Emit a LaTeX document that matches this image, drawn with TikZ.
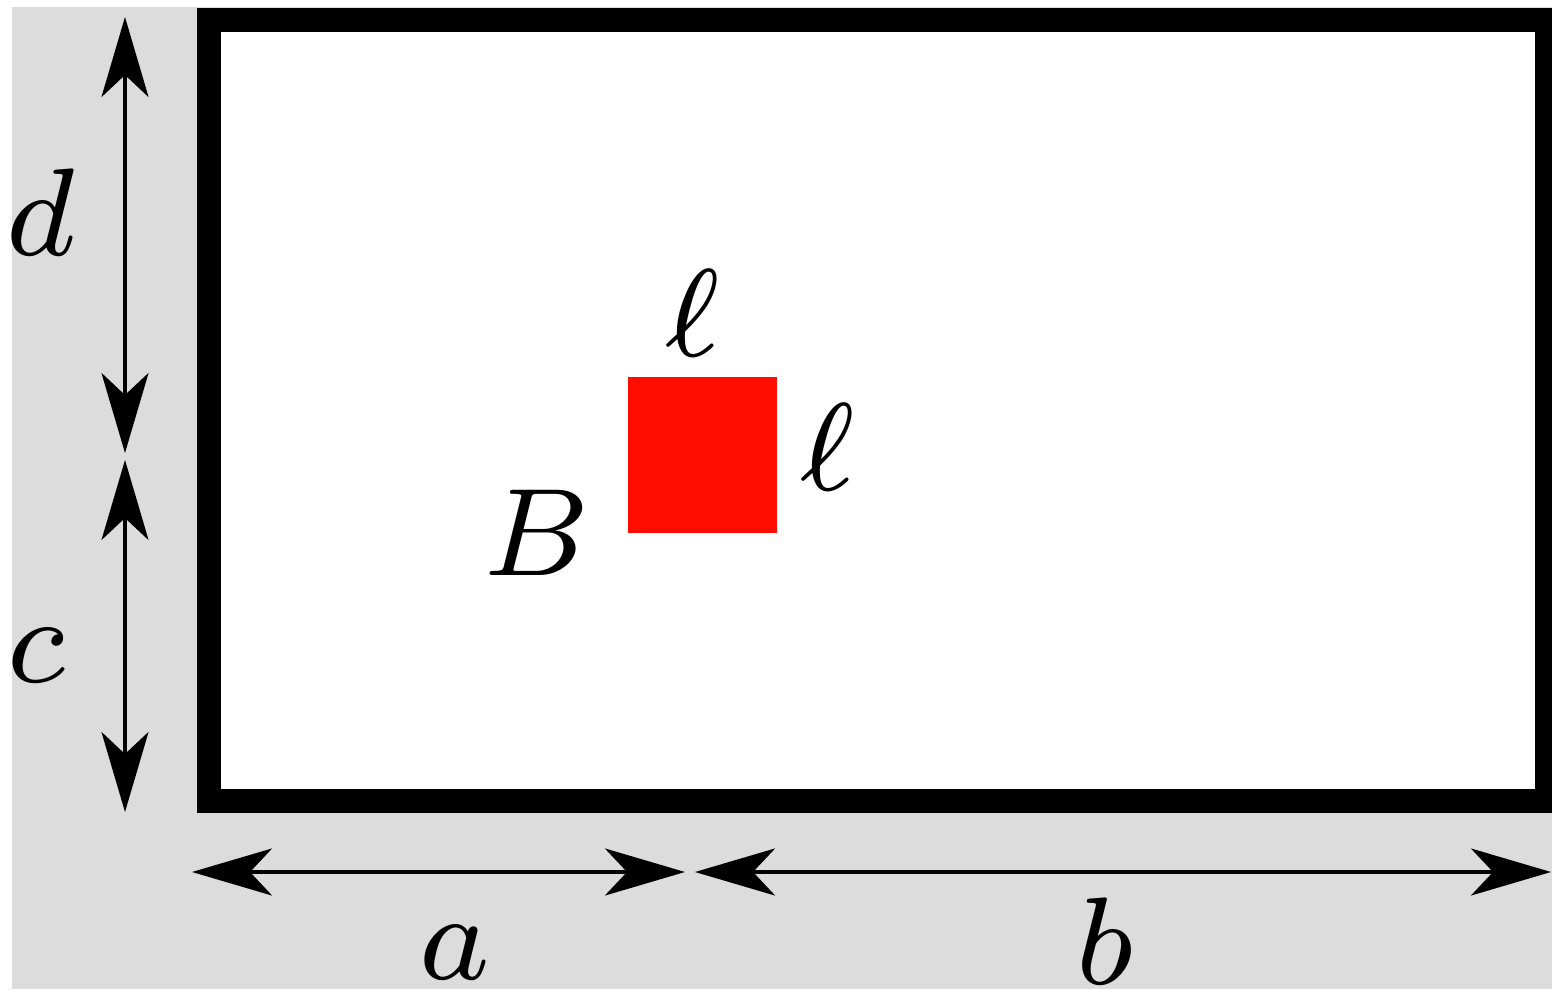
\RequirePackage{fix-cm}
\documentclass[tikz,border=0pt]{standalone}
\usepackage{graphicx}
\usetikzlibrary{arrows.meta}
\definecolor{bggray}{HTML}{DCDCDC}
\definecolor{sqred}{HTML}{FF0D00}
\newcommand{\biglab}[1]{\scalebox{15.6}{\fontsize{8}{9}\selectfont$#1$}}
\tikzset{
  dim/.style={line width=3.5pt, {Stealth[length=80pt,width=47pt,inset=22pt]}-{Stealth[length=80pt,width=47pt,inset=22pt]}},
  lab/.style={anchor=base, inner sep=0pt, outer sep=0pt}
}
\begin{document}
\begin{tikzpicture}[x=1pt,y=-1pt]
\useasboundingbox (0,0) rectangle (1552,992);
\clip (0,0) rectangle (1552,992);
\fill[white] (0,0) rectangle (1552,992);
\fill[bggray] (12,7) rectangle (1552,989);
% frame
\node[draw=black, line width=24pt, fill=white, inner sep=0pt, outer sep=0pt, minimum width=1338.5pt, minimum height=780pt, anchor=north west] (frame) at (208.5,20.5) {};
% red square
\node[fill=sqred, inner sep=0pt, outer sep=0pt, minimum width=149pt, minimum height=156pt, anchor=north west] (sq) at (628,377) {};
% dimension coordinates
\coordinate (dtop) at (125,17);
\coordinate (dbot) at (125,453);
\coordinate (ctop) at (125,460);
\coordinate (cbot) at (125,812);
\coordinate (aleft) at (192,872);
\coordinate (aright) at (685,872);
\coordinate (bleft) at (695,872);
\coordinate (bright) at (1551,872);
\draw[dim] (dtop) -- (dbot);
\draw[dim] (ctop) -- (cbot);
\draw[dim] (aleft) -- (aright);
\draw[dim] (bleft) -- (bright);
% labels
\node[lab] (ld) at (41,256) {\biglab{d}};
\node[lab] (lc) at (36,682) {\biglab{c}};
\node[lab] (la) at (455,979) {\biglab{a}};
\node[lab] (lb) at (1105,984) {\biglab{b}};
\node[lab] (lB) at (537,575) {\biglab{B}};
\node[lab] (l1) at (693,356) {\biglab{\ell}};
\node[lab] (l2) at (828,490) {\biglab{\ell}};
\end{tikzpicture}
\end{document}
